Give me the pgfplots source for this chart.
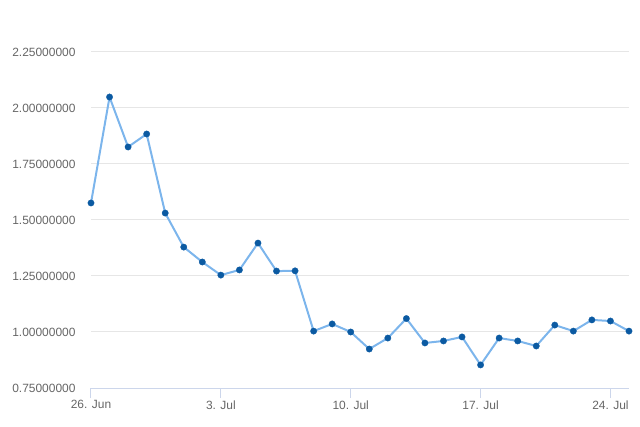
\documentclass[border=0pt]{standalone}
\usepackage{pgfplots}
\pgfplotsset{compat=1.18}
\usepackage{fontspec}
\setmainfont{Liberation Sans}
\definecolor{linecol}{HTML}{7CB5EC}
\definecolor{markcol}{HTML}{0B5AA2}
\definecolor{gridcol}{HTML}{E6E6E6}
\definecolor{axiscol}{HTML}{CCD6EB}
\definecolor{textcol}{HTML}{666666}
\begin{document}
\begin{tikzpicture}
\begin{axis}[
  at={(0,0)}, anchor=south west,
  width=538bp, height=336bp, scale only axis,
  xmin=0, xmax=29, ymin=0.75, ymax=2.25,
  enlargelimits=false,
  xtick={0,7,14,21,28},
  xticklabels={26. Jun, 3. Jul, 10. Jul, 17. Jul, 24. Jul},
  ytick={0.75,1.00,1.25,1.50,1.75,2.00,2.25},
  /pgf/number format/.cd, fixed, fixed zerofill, precision=8, assume math mode=true, /pgfplots/.cd,
  axis x line*=bottom, axis y line*=left,
  y axis line style={draw=none},
  x axis line style={draw=axiscol, line width=1bp},
  ytick style={draw=none},
  xtick style={draw=axiscol, line width=1bp},
  tick align=outside,
  major tick length=10bp,
  ymajorgrids,
  major grid style={draw=gridcol, line width=1bp},
  ticklabel style={font=\fontsize{12}{14}\selectfont, text=textcol},
  yticklabel style={xshift=-2bp},
  xticklabel style={yshift=1bp},
  clip=false,
]
\addplot[color=linecol, line width=2bp, mark=*, mark size=3.2bp, mark options={fill=markcol, draw=markcol, line width=0.3bp}] coordinates {
(0,1.576) (1,2.049) (2,1.826) (3,1.884) (4,1.531) (5,1.379) (6,1.3125) (7,1.254)
(8,1.277) (9,1.397) (10,1.272) (11,1.273) (12,1.004) (13,1.036) (14,1.000) (15,0.924)
(16,0.973) (17,1.060) (18,0.951) (19,0.960) (20,0.978) (21,0.853) (22,0.973) (23,0.960)
(24,0.9375) (25,1.031) (26,1.004) (27,1.054) (28,1.049) (29,1.004)
};
\end{axis}
\useasboundingbox (-91bp,-39bp) rectangle (549bp,388bp);
\end{tikzpicture}
\end{document}
